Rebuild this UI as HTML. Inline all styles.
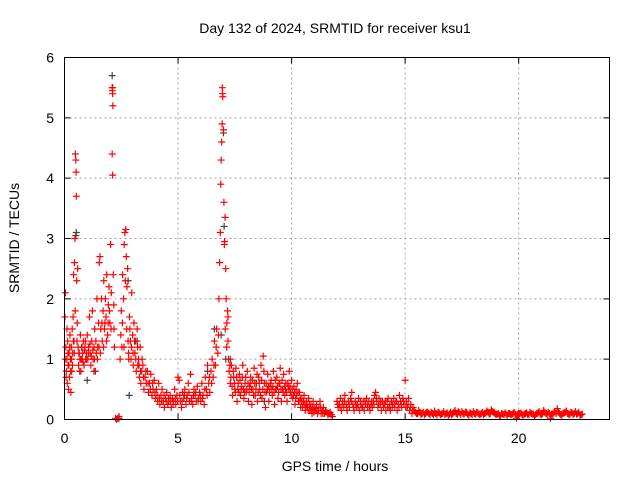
<!DOCTYPE html>
<html><head><meta charset="utf-8"><style>
body{margin:0;background:#fff}
svg{display:block;font-family:"Liberation Sans",sans-serif}
</style></head><body>
<svg id="chart" width="640" height="480" viewBox="0 0 640 480" xmlns="http://www.w3.org/2000/svg">
<text x="335" y="33" text-anchor="middle" font-size="14" fill="#000">Day 132 of 2024, SRMTID for receiver ksu1</text>
<text transform="translate(19,238) rotate(-90)" text-anchor="middle" font-size="14" fill="#000">SRMTID / TECUs</text>
<text x="335" y="471" text-anchor="middle" font-size="14" fill="#000">GPS time / hours</text>
<g id="grid"></g>
<g id="ticks"></g>
<g id="gray"></g>
<g id="red"></g>
<rect x="64.5" y="57.5" width="545" height="362" fill="none" stroke="#000" stroke-width="1"/>
</svg>
<script>
const xTicks=[0,5,10,15,20];
const yTicks=[0,1,2,3,4,5,6];
const grayT=[0.5,0.52,1.0,1.3,2.1,2.12,2.4,2.8,2.85,3.2,6.3,6.6,6.9,7.0,7.03,7.1,7.3,8.8,20.0];
const grayV=[3.05,3.1,0.65,0.8,5.7,5.5,0.02,2.3,0.4,1.3,0.8,1.5,1.4,4.75,3.2,1.0,1.0,0.3,0.1];
const redPairs=[
[0.02,1.7],[0.04,2.1],[0.06,1.2],[0.08,0.8],[0.1,1.0],[0.12,0.6],[0.14,1.3],[0.16,0.9],[0.18,0.5],[0.2,1.1],[0.22,0.7],[0.24,1.4],[0.26,1.0],[0.28,0.45],[0.3,1.2],[0.32,0.8],[0.34,1.5],[0.36,1.1],[0.38,1.7],[0.4,2.4],[0.42,1.3],[0.44,2.6],[0.46,3.0],[0.48,4.4],[0.5,4.3],[0.51,4.1],[0.52,3.7],[0.54,2.3],[0.56,1.6],[0.58,2.5],[0.6,1.2],[0.62,0.9],[0.65,1.1],[0.68,1.0],[0.7,1.4],[0.72,0.8],[0.75,1.2],[0.78,1.0],[0.8,1.1],[0.83,1.3],[0.86,0.9],[0.9,1.2],[0.93,1.0],[0.96,1.1],[1.0,1.4],[1.03,1.0],[1.06,1.2],[1.1,1.7],[1.13,1.1],[1.16,0.9],[1.2,1.3],[1.23,1.8],[1.26,1.0],[1.3,1.2],[1.33,1.5],[1.36,0.8],[1.4,1.1],[1.43,2.0],[1.46,1.2],[1.5,1.6],[1.53,2.6],[1.56,2.7],[1.6,1.5],[1.63,2.0],[1.66,1.3],[1.7,1.8],[1.73,2.3],[1.76,1.5],[1.8,2.0],[1.83,1.7],[1.86,2.4],[1.9,1.4],[1.93,1.9],[1.96,2.2],[2.0,1.6],[2.03,2.9],[2.06,2.1],[2.1,5.5],[2.11,5.45],[2.12,5.4],[2.13,5.2],[2.1,4.4],[2.12,4.05],[2.15,2.4],[2.18,1.5],[2.2,1.2],[2.25,0.02],[2.3,0.0],[2.35,0.02],[2.4,0.05],[2.45,1.0],[2.5,1.8],[2.53,1.2],[2.56,2.4],[2.6,2.0],[2.63,2.9],[2.66,3.1],[2.7,3.15],[2.72,2.7],[2.75,2.2],[2.78,2.5],[2.8,1.3],[2.83,1.0],[2.86,1.7],[2.9,1.3],[2.93,1.0],[2.96,2.1],[3.0,1.4],[3.03,0.9],[3.06,1.6],[3.1,1.1],[3.13,1.3],[3.16,0.8],[3.2,1.5],[3.23,0.9],[3.26,1.0],[3.3,0.7],[3.33,1.2],[3.36,0.6],[3.4,0.8],[3.45,0.9],[3.5,0.5],[3.55,0.7],[3.6,0.6],[3.65,0.8],[3.7,0.45],[3.75,0.6],[3.8,0.75],[3.85,0.4],[3.9,0.5],[3.95,0.65],[4.0,0.35],[4.05,0.5],[4.1,0.3],[4.15,0.6],[4.2,0.25],[4.25,0.4],[4.3,0.5],[4.35,0.3],[4.4,0.2],[4.45,0.35],[4.5,0.45],[4.55,0.25],[4.6,0.3],[4.65,0.4],[4.7,0.2],[4.75,0.35],[4.8,0.3],[4.85,0.5],[4.9,0.25],[4.95,0.4],[5.0,0.7],[5.05,0.65],[5.1,0.3],[5.15,0.2],[5.2,0.45],[5.25,0.35],[5.3,0.5],[5.35,0.25],[5.4,0.4],[5.45,0.6],[5.5,0.3],[5.55,0.75],[5.6,0.35],[5.65,0.25],[5.7,0.5],[5.75,0.4],[5.8,0.3],[5.85,0.55],[5.9,0.35],[5.95,0.45],[6.0,0.3],[6.05,0.6],[6.1,0.4],[6.15,0.25],[6.2,0.7],[6.25,0.5],[6.3,0.9],[6.35,0.6],[6.4,0.45],[6.45,0.8],[6.5,1.0],[6.55,0.7],[6.6,1.3],[6.65,0.9],[6.7,1.5],[6.75,1.1],[6.8,2.0],[6.83,2.6],[6.86,3.1],[6.88,3.9],[6.9,4.3],[6.92,4.6],[6.94,4.9],[6.95,5.5],[6.96,5.4],[6.97,5.35],[7.0,4.8],[7.02,3.6],[7.04,2.9],[7.05,2.95],[7.07,3.35],[7.1,2.5],[7.12,2.0],[7.15,1.6],[7.18,1.8],[7.2,1.3],[7.22,1.0],[7.25,0.8],[7.3,0.6],[7.35,0.9],[7.4,0.4],[7.45,0.7],[7.5,0.5],[7.55,0.85],[7.6,0.3],[7.65,0.6],[7.7,0.75],[7.75,0.4],[7.8,0.55],[7.85,0.9],[7.9,0.35],[7.95,0.6],[8.0,0.45],[8.05,0.8],[8.1,0.3],[8.15,0.55],[8.2,0.7],[8.25,0.25],[8.3,0.5],[8.35,0.85],[8.4,0.4],[8.45,0.6],[8.5,0.3],[8.55,0.7],[8.6,0.5],[8.65,0.9],[8.7,0.35],[8.75,1.05],[8.8,0.6],[8.85,0.2],[8.9,0.45],[8.95,0.75],[9.0,0.3],[9.05,0.55],[9.1,0.65],[9.15,0.4],[9.2,0.8],[9.25,0.25],[9.3,0.5],[9.35,0.7],[9.4,0.35],[9.45,0.6],[9.5,0.85],[9.55,0.3],[9.6,0.5],[9.65,0.75],[9.7,0.4],[9.75,0.6],[9.8,0.3],[9.85,0.55],[9.9,0.8],[9.95,0.45],[10.0,0.65],[10.05,0.35],[10.1,0.55],[10.15,0.25],[10.2,0.5],[10.25,0.6],[10.3,0.3],[10.35,0.45],[10.4,0.2],[10.45,0.35],[10.5,0.25],[10.55,0.4],[10.6,0.15],[10.65,0.3],[10.7,0.2],[10.75,0.35],[10.8,0.15],[10.85,0.25],[10.9,0.1],[10.95,0.3],[11.0,0.2],[11.05,0.15],[11.1,0.25],[11.15,0.1],[11.2,0.2],[11.25,0.3],[11.3,0.1],[11.35,0.15],[11.4,0.2],[11.45,0.1],[11.5,0.15],[11.6,0.08],[11.7,0.12],[11.8,0.05],[12.0,0.3],[12.05,0.2],[12.1,0.25],[12.15,0.35],[12.2,0.15],[12.25,0.3],[12.3,0.2],[12.35,0.4],[12.4,0.25],[12.45,0.15],[12.5,0.3],[12.55,0.2],[12.6,0.35],[12.65,0.45],[12.7,0.25],[12.75,0.15],[12.8,0.3],[12.85,0.2],[12.9,0.25],[12.95,0.35],[13.0,0.15],[13.05,0.25],[13.1,0.2],[13.15,0.3],[13.2,0.15],[13.25,0.25],[13.3,0.35],[13.35,0.2],[13.4,0.3],[13.45,0.15],[13.5,0.25],[13.55,0.2],[13.6,0.3],[13.65,0.4],[13.7,0.45],[13.75,0.3],[13.8,0.2],[13.85,0.35],[13.9,0.25],[13.95,0.15],[14.0,0.3],[14.05,0.2],[14.1,0.25],[14.15,0.15],[14.2,0.3],[14.25,0.35],[14.3,0.2],[14.35,0.15],[14.4,0.3],[14.45,0.25],[14.5,0.35],[14.55,0.2],[14.6,0.3],[14.65,0.15],[14.7,0.25],[14.75,0.4],[14.8,0.3],[14.85,0.2],[14.9,0.35],[14.95,0.25],[15.0,0.65],[15.05,0.3],[15.1,0.2],[15.15,0.35],[15.2,0.15],[15.25,0.25],[15.3,0.1],[15.35,0.2],[15.4,0.15],[15.5,0.1],[15.6,0.15],[15.7,0.08],[15.8,0.12],[15.9,0.1],
[16.0,0.12],[16.1,0.08],[16.2,0.1],[16.3,0.14],[16.4,0.07],[16.5,0.11],[16.6,0.09],[16.7,0.13],[16.8,0.1],[16.9,0.06],[17.0,0.12],[17.1,0.1],[17.2,0.15],[17.3,0.08],[17.4,0.11],[17.5,0.13],[17.6,0.09],[17.7,0.12],[17.8,0.07],[17.9,0.1],[18.0,0.13],[18.1,0.09],[18.2,0.11],[18.3,0.08],[18.4,0.12],[18.5,0.1],[18.6,0.14],[18.7,0.09],[18.8,0.16],[18.9,0.12],[19.0,0.08],[19.1,0.1],[19.2,0.06],[19.3,0.09],[19.4,0.11],[19.5,0.07],[19.6,0.1],[19.7,0.08],[19.8,0.12],[19.9,0.02],[20.0,0.09],[20.1,0.11],[20.2,0.07],[20.3,0.1],[20.4,0.08],[20.5,0.12],[20.6,0.09],[20.7,0.06],[20.8,0.1],[20.9,0.13],[21.0,0.08],[21.1,0.15],[21.2,0.1],[21.3,0.12],[21.4,0.02],[21.5,0.09],[21.6,0.13],[21.7,0.18],[21.8,0.1],[21.9,0.07],[22.0,0.11],[22.1,0.14],[22.2,0.09],[22.3,0.12],[22.4,0.08],[22.5,0.13],[22.6,0.1],[22.7,0.07],[22.8,0.09]
];
const redExtra=[
[0.03,1.0],[0.07,0.7],[0.11,1.5],[0.15,1.1],[0.19,0.9],[0.23,1.2],[0.27,0.8],[0.31,1.0],[0.35,0.9],[0.39,1.3],[0.43,1.1],[0.47,1.8],[0.55,1.3],[0.63,1.1],[0.67,0.8],[0.73,1.0],[0.77,1.2],[0.82,0.95],[0.88,1.15],[0.92,1.3],[0.98,1.0],[1.05,1.1],[1.12,1.25],[1.18,1.05],[1.25,1.15],[1.32,1.0],[1.38,1.3],[1.45,1.0],[1.52,1.2],[1.58,1.1],[1.65,1.6],[1.72,1.2],[1.78,1.6],[1.85,1.3],[1.92,1.6],[1.98,1.8],[2.05,1.5],[2.17,1.9],[2.48,1.4],[2.55,1.6],[2.62,1.2],[2.68,2.3],[2.74,1.5],[2.82,1.1],[2.88,1.5],[2.95,1.2],[3.02,1.1],[3.08,1.3],[3.14,1.0],[3.22,1.2],[3.28,0.9],[3.35,0.8],[3.42,1.0],[3.48,0.7],[3.58,0.8],[3.68,0.6],[3.78,0.5],[3.88,0.6],[3.98,0.45],[4.08,0.4],[4.18,0.35],[4.28,0.3],[4.38,0.4],[4.48,0.3],[4.58,0.35],[4.68,0.3],[4.78,0.25],[4.88,0.35],[4.98,0.3],[5.08,0.4],[5.18,0.3],[5.28,0.4],[5.38,0.35],[5.48,0.45],[5.58,0.3],[5.68,0.4],[5.78,0.45],[5.88,0.3],[5.98,0.4],[6.08,0.35],[6.18,0.5],[6.28,0.4],[6.38,0.7],[6.48,0.6],[6.58,0.9],[6.68,1.2],[6.78,1.4],[7.08,1.5],[7.14,1.2],[7.2,1.7],[7.28,0.9],[7.33,0.7],[7.38,0.55],[7.43,0.8],[7.48,0.6],[7.53,0.45],[7.58,0.7],[7.63,0.5],[7.68,0.45],[7.73,0.65],[7.78,0.5],[7.83,0.7],[7.88,0.5],[7.93,0.45],[7.98,0.7],[8.03,0.5],[8.08,0.6],[8.13,0.45],[8.18,0.6],[8.23,0.5],[8.28,0.65],[8.33,0.4],[8.38,0.6],[8.43,0.5],[8.48,0.75],[8.53,0.45],[8.58,0.6],[8.63,0.4],[8.68,0.65],[8.73,0.5],[8.78,0.8],[8.83,0.45],[8.88,0.6],[8.93,0.5],[8.98,0.55],[9.03,0.45],[9.08,0.6],[9.13,0.5],[9.18,0.55],[9.23,0.45],[9.28,0.65],[9.33,0.5],[9.38,0.55],[9.43,0.45],[9.48,0.6],[9.53,0.5],[9.58,0.65],[9.63,0.45],[9.68,0.55],[9.73,0.5],[9.78,0.45],[9.83,0.6],[9.88,0.5],[9.93,0.55],[9.98,0.4],[10.03,0.5],[10.08,0.4],[10.13,0.45],[10.18,0.35],[10.23,0.4],[10.28,0.45],[10.33,0.3],[10.38,0.35],[10.43,0.3],[10.48,0.2],[10.53,0.3],[10.58,0.25],[10.63,0.2],[10.68,0.25],[10.73,0.15],[10.78,0.25],[10.83,0.2],[10.88,0.15],[10.93,0.2],[10.98,0.12],[11.08,0.18],[11.18,0.14],[11.28,0.2],[11.38,0.1],[11.55,0.12],[11.65,0.1],[11.75,0.08],[12.03,0.25],[12.13,0.2],[12.23,0.25],[12.33,0.3],[12.43,0.2],[12.53,0.25],[12.63,0.3],[12.73,0.2],[12.83,0.25],[12.93,0.2],[13.03,0.3],[13.13,0.2],[13.23,0.3],[13.33,0.25],[13.43,0.2],[13.53,0.3],[13.63,0.25],[13.73,0.35],[13.83,0.25],[13.93,0.3],[14.03,0.25],[14.13,0.3],[14.23,0.2],[14.33,0.25],[14.43,0.2],[14.53,0.25],[14.63,0.3],[14.73,0.2],[14.83,0.25],[14.93,0.3],[15.03,0.2],[15.13,0.25],[15.23,0.2],[15.33,0.15],[15.45,0.12],[15.55,0.1],[15.65,0.12],[15.75,0.1],[15.85,0.08],[15.95,0.12],
[16.05,0.1],[16.15,0.12],[16.25,0.08],[16.35,0.1],[16.45,0.12],[16.55,0.08],[16.65,0.1],[16.75,0.08],[16.85,0.11],[16.95,0.09],[17.05,0.08],[17.15,0.12],[17.25,0.1],[17.35,0.13],[17.45,0.08],[17.55,0.1],[17.65,0.12],[17.75,0.09],[17.85,0.11],[17.95,0.08],[18.05,0.1],[18.15,0.12],[18.25,0.09],[18.35,0.1],[18.45,0.08],[18.55,0.11],[18.65,0.12],[18.75,0.1],[18.85,0.13],[18.95,0.1],[19.05,0.09],[19.15,0.07],[19.25,0.1],[19.35,0.08],[19.45,0.09],[19.55,0.1],[19.65,0.08],[19.75,0.1],[19.85,0.09],[19.95,0.08],[20.05,0.1],[20.15,0.08],[20.25,0.09],[20.35,0.11],[20.45,0.08],[20.55,0.1],[20.65,0.09],[20.75,0.08],[20.85,0.11],[20.95,0.09],[21.05,0.1],[21.15,0.12],[21.25,0.08],[21.35,0.1],[21.45,0.09],[21.55,0.11],[21.65,0.1],[21.75,0.13],[21.85,0.08],[21.95,0.1],[22.05,0.12],[22.15,0.1],[22.25,0.08],[22.35,0.11],[22.45,0.1],[22.55,0.09],[22.65,0.12],[22.75,0.08]
];
const X0=64.5,X1=609.5,Y0=419.5,Y1=57.5,XMAX=24,YMAX=6;
const xs=t=>X0+(X1-X0)*t/XMAX;
const ys=v=>Y0-(Y0-Y1)*v/YMAX;
const NS='http://www.w3.org/2000/svg';
function mk(tag,attrs,parent){const e=document.createElementNS(NS,tag);for(const k in attrs)e.setAttribute(k,attrs[k]);parent.appendChild(e);return e;}
const grid=document.getElementById('grid'),ticks=document.getElementById('ticks');
xTicks.forEach(t=>{
  const x=xs(t);
  if(t>0){const g=mk('line',{x1:x,x2:x,y1:Y1,y2:Y0,stroke:'#a0a0a0','stroke-dasharray':'2,3'},grid);
  
  }
  const tk=mk('path',{d:`M${x},${Y0}v-6M${x},${Y1}v6`,stroke:'#000'},ticks);
  
  
  const lb=mk('text',{x:x,y:443,'text-anchor':'middle','font-size':14,fill:'#000'},ticks);
  lb.textContent=t;
  
  
});
yTicks.forEach(v=>{
  const y=ys(v);
  if(v>0&&v<6){const g=mk('line',{x1:X0,x2:X1,y1:y,y2:y,stroke:'#a0a0a0','stroke-dasharray':'2,3'},grid);
  
  }
  const tk=mk('path',{d:`M${X0},${y}h6M${X1},${y}h-6`,stroke:'#000'},ticks);
  
  
  const lb=mk('text',{x:54,y:y+5,'text-anchor':'end','font-size':14,fill:'#000'},ticks);
  lb.textContent=v;
  
  
});
function plus(g,t,v,color){
  const x=xs(t),y=ys(v);
  const p=mk('path',{d:`M${x-3.5},${y}h7M${x},${y-3.5}v7`,stroke:color,'stroke-width':1.2,fill:'none'},g);
  
  
}
const gg=document.getElementById('gray');
grayT.forEach((t,i)=>plus(gg,t,grayV[i],'#404040'));
const rg=document.getElementById('red');
redPairs.forEach(p=>plus(rg,p[0],p[1],'#ff0000'));
redExtra.forEach(p=>plus(rg,p[0],p[1],'#ff0000'));
</script>
</body></html>
